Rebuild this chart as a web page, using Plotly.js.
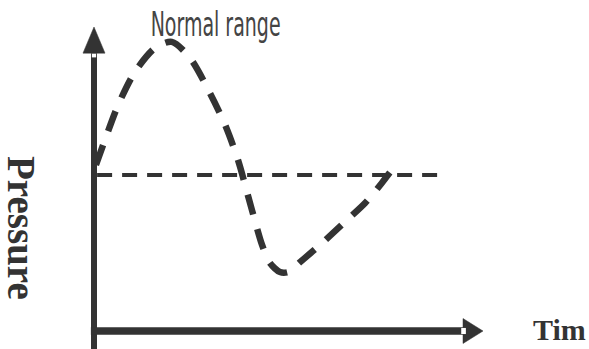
<!DOCTYPE html>
<html>
<head>
<meta charset="utf-8">
<script src="https://cdn.plot.ly/plotly-3.0.1.min.js"></script>
<style>html,body{margin:0;padding:0;background:#fff;}#chart{width:589px;height:349px;}</style>
</head>
<body>
<div id="chart"></div>
<script>
// Pressure response over time (arbitrary units)
const timeValues = [0.05, 0.28, 0.62, 1.05, 1.57, 2.00, 2.47, 2.98, 3.37, 3.70, 4.06, 4.32, 4.52, 4.78, 4.99, 5.30, 5.81, 6.45, 6.97, 7.40, 7.79];
const pressureValues = [5.46, 6.28, 7.43, 8.52, 9.31, 9.51, 8.98, 7.83, 6.78, 5.63, 3.98, 2.83, 2.24, 1.94, 1.94, 2.27, 2.83, 3.59, 4.21, 4.87, 5.53];
const normalTime = [0.08, 8.89];
const normalPressure = [5.13, 5.13];
const labelTitle = "Normal range";
const labelY = "Pressure";
const labelX = "Tim";

const ink = '#333333';

const traces = [
  {x: normalTime, y: normalPressure, mode: 'lines', type: 'scatter',
   line: {color: ink, width: 4, dash: '15px,10px'}, hoverinfo: 'skip'},
  {x: timeValues, y: pressureValues, mode: 'lines', type: 'scatter',
   line: {color: ink, width: 6.5, dash: '21px,15px', shape: 'spline', smoothing: 0.8}, hoverinfo: 'skip'}
];

const layout = {
  width: 589, height: 349,
  margin: {l: 0, r: 0, t: 0, b: 0},
  paper_bgcolor: '#ffffff', plot_bgcolor: '#ffffff',
  showlegend: false,
  xaxis: {range: [-2.4165, 12.725], visible: false, fixedrange: true},
  yaxis: {range: [-0.592, 10.888], visible: false, fixedrange: true},
  shapes: [
    {type: 'line', xref: 'x', yref: 'y', x0: 0, y0: -0.65, x1: 0, y1: 9.14, line: {color: ink, width: 6}},
    {type: 'line', xref: 'x', yref: 'y', x0: -0.08, y0: 0, x1: 9.49, y1: 0, line: {color: ink, width: 7.5}},
    {type: 'path', xref: 'x', yref: 'y', path: 'M -0.283,9.14 L 0.283,9.14 L 0,10 Z', fillcolor: ink, line: {color: ink, width: 0.5}},
    {type: 'path', xref: 'x', yref: 'y', path: 'M 9.486,0.41 L 9.486,-0.41 L 10,0 Z', fillcolor: ink, line: {color: ink, width: 0.5}},
    {type: 'rect', xref: 'x', yref: 'y', x0: -0.055, x1: 0.055, y0: 9.0, y1: 9.12, fillcolor: '#ffffff', line: {width: 0}},
    {type: 'rect', xref: 'x', yref: 'y', x0: 9.44, x1: 9.56, y0: -0.1, y1: 0.1, fillcolor: '#ffffff', line: {width: 0}}
  ],
  annotations: [
    {text: labelTitle, xref: 'paper', yref: 'paper', x: 215/589, y: 1 - 24/349, xanchor: 'center', yanchor: 'middle',
     showarrow: false, font: {family: 'Liberation Sans Narrow, DejaVu Sans Condensed, sans-serif', size: 34, color: '#444444'}},
    {text: '<b>' + labelY + '</b>', xref: 'paper', yref: 'paper', x: 22/589, y: 1 - 228/349, xanchor: 'center', yanchor: 'middle',
     textangle: 90, showarrow: false, font: {family: 'Liberation Serif, Times New Roman, serif', size: 39, color: ink}},
    {text: '<b>' + labelX + '</b>', xref: 'paper', yref: 'paper', x: 559/589, y: 1 - 329/349, xanchor: 'center', yanchor: 'middle',
     showarrow: false, font: {family: 'Liberation Serif, Times New Roman, serif', size: 30, color: ink}}
  ]
};

Plotly.newPlot('chart', traces, layout, {staticPlot: true, displayModeBar: false}).then(function () {
  document.querySelectorAll('.annotation-text').forEach(function (el) {
    if (el.textContent === labelTitle) {
      el.setAttribute('textLength', '130');
      el.setAttribute('lengthAdjust', 'spacingAndGlyphs');
    }
  });
});
</script>
</body>
</html>
